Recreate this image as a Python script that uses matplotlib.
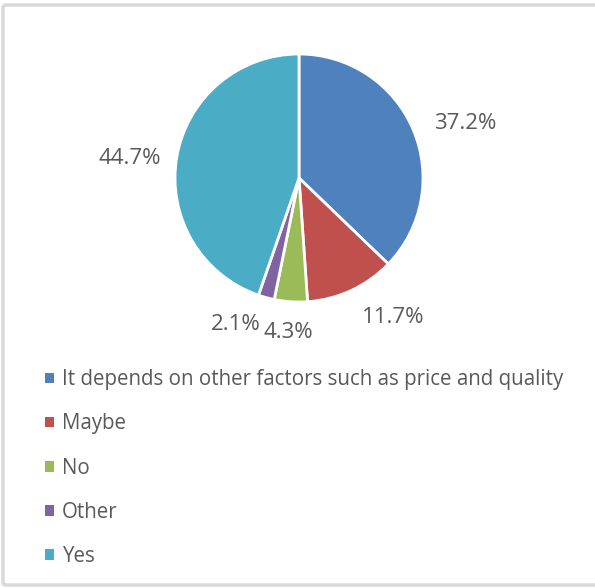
import numpy as np
import matplotlib.pyplot as plt
from matplotlib.patches import FancyBboxPatch, Patch

labels = ["It depends on other factors such as price and quality",
          "Maybe", "No", "Other", "Yes"]
shares = [37.2, 11.7, 4.3, 2.1, 44.7]
colors = ["#4F81BD", "#C0504D", "#9BBB59", "#8064A2", "#4BACC6"]

# radial offset / angle tweak for each percentage label (outside the pie)
label_dist = [1.41, 1.36, 1.25, 1.29, 1.37]
label_turn = [-5, 9, 0, -8, 3]

TEXT = "#595959"
plt.rcParams['font.family'] = ['Open Sans', 'DejaVu Sans']

fig = plt.figure(figsize=(5.95, 5.88), dpi=100)
W, H = 595, 588

# light grey chart frame
frame = FancyBboxPatch((3 / W, 3 / H), 600 / W, (583 - 3) / H,
                       boxstyle="round,pad=0,rounding_size=0.005",
                       transform=fig.transFigure, facecolor="none",
                       edgecolor="#D9D9D9", linewidth=2.5, zorder=-1)
fig.patches.append(frame)

cx, cy, r = 299, 178, 124
ax = fig.add_axes([(cx - r) / W, (H - cy - r) / H, 2 * r / W, 2 * r / H])
wedges, _ = ax.pie(shares, colors=colors, startangle=90, counterclock=False,
                   radius=1, wedgeprops=dict(edgecolor="white", linewidth=2))
ax.set_xlim(-1, 1)
ax.set_ylim(-1, 1)
ax.set_aspect("equal")
ax.axis("off")

for w, v, d, t in zip(wedges, shares, label_dist, label_turn):
    mid = np.deg2rad((w.theta1 + w.theta2) / 2 + t)
    ax.text(d * np.cos(mid), d * np.sin(mid), f"{v:.1f}%",
            ha="center", va="center", fontsize=16, color=TEXT, clip_on=False)

handles = [Patch(facecolor=c, edgecolor="none") for c in colors]
fig.legend(handles, labels, loc="upper left",
           bbox_to_anchor=(37 / W, 1 - 361 / H), frameon=False,
           fontsize=14.8, labelcolor=TEXT, handlelength=0.42, handleheight=0.42,
           handletextpad=0.4, labelspacing=1.13, borderaxespad=0)

fig.savefig("out.png", dpi=100)
